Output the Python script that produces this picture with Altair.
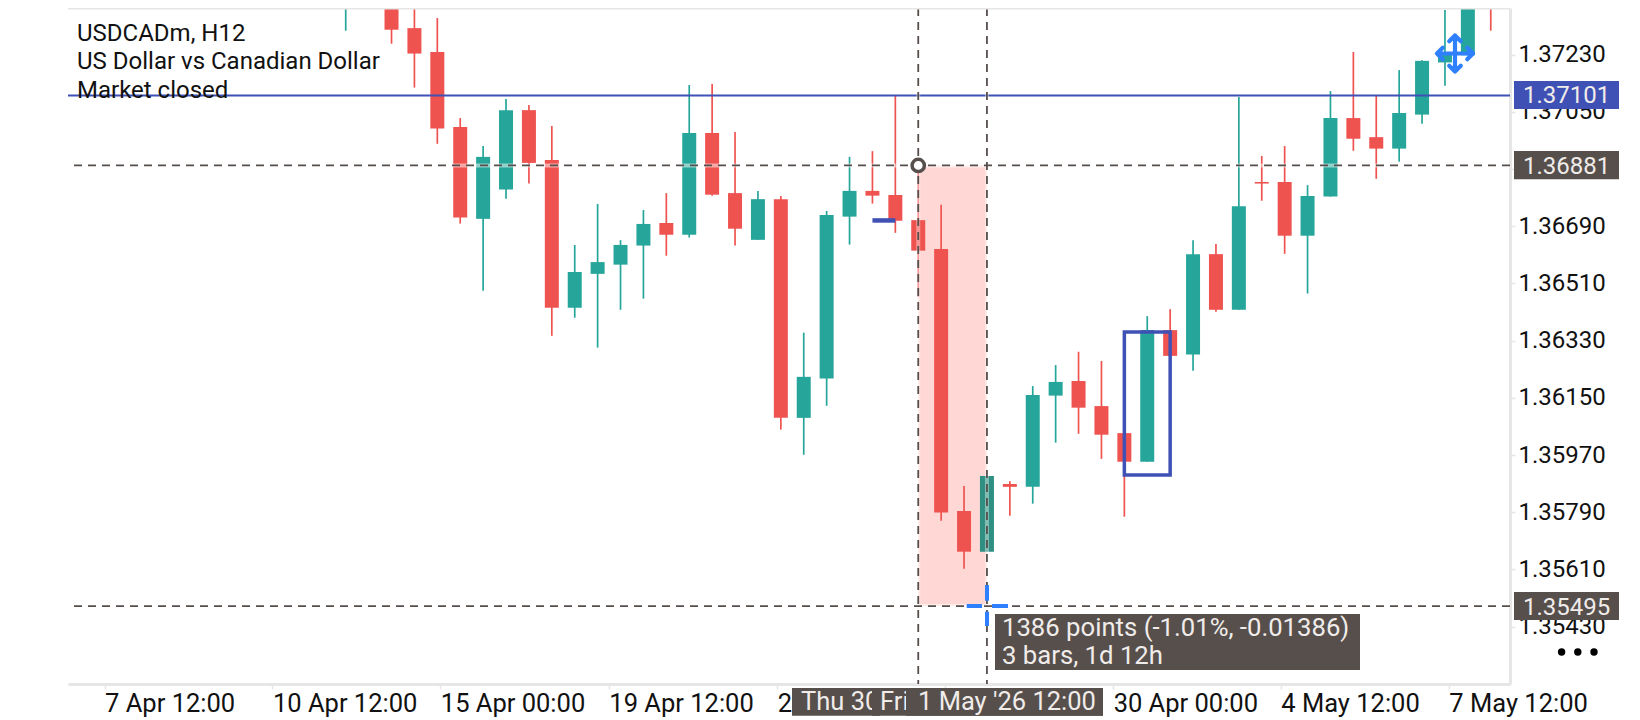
import json
import altair as alt
import pandas as pd

# bar number, counted from the first bar visible at the top of the chart
bar_open = [1.37420, 1.37550, 1.37500, 1.37313, 1.37238, 1.37002, 1.36713, 1.36805, 1.37055, 1.36898,
            1.36433, 1.36540, 1.36569, 1.36629, 1.36700, 1.36663, 1.36983, 1.36794, 1.36647, 1.36775,
            1.36087, 1.36211, 1.36720, 1.36801, 1.36788, 1.36709, 1.36618, 1.35794, 1.35666, 1.35879,
            1.35870, 1.36157, 1.36203, 1.36124, 1.36039, 1.35949, 1.36363, 1.36286, 1.36602, 1.36427,
            1.36829, 1.36829, 1.36660, 1.36783, 1.37030, 1.36970, 1.36934, 1.37041, 1.37205, 1.37228,
            1.37500]
bar_high = [1.37500, 1.37600, 1.37520, 1.37376, 1.37345, 1.37030, 1.36942, 1.37090, 1.37071, 1.37005,
            1.36631, 1.36760, 1.36646, 1.36741, 1.36794, 1.37134, 1.37137, 1.36986, 1.36801, 1.36785,
            1.36355, 1.36738, 1.36908, 1.36926, 1.37100, 1.36882, 1.36757, 1.35873, 1.35904, 1.35888,
            1.36187, 1.36253, 1.36295, 1.36266, 1.36039, 1.36407, 1.36429, 1.36646, 1.36634, 1.37096,
            1.36911, 1.36942, 1.36819, 1.37115, 1.37238, 1.37100, 1.37181, 1.37212, 1.37370, 1.37500,
            1.37520]
bar_low = [1.37305, 1.37450, 1.37264, 1.37126, 1.36949, 1.36698, 1.36487, 1.36776, 1.36824, 1.36345,
           1.36402, 1.36308, 1.36427, 1.36462, 1.36597, 1.36654, 1.36786, 1.36629, 1.36647, 1.36050,
           1.35971, 1.36125, 1.36632, 1.36761, 1.36669, 1.36468, 1.35763, 1.35612, 1.35666, 1.35779,
           1.35817, 1.36009, 1.36037, 1.35958, 1.35776, 1.35949, 1.36282, 1.36235, 1.36421, 1.36427,
           1.36770, 1.36603, 1.36478, 1.36783, 1.36927, 1.36839, 1.36893, 1.37012, 1.37132, 1.37228,
           1.37305]
bar_close = [1.37480, 1.37450, 1.37308, 1.37233, 1.36997, 1.36717, 1.36908, 1.37055, 1.36889, 1.36433,
             1.36546, 1.36577, 1.36631, 1.36697, 1.36663, 1.36983, 1.36789, 1.36682, 1.36775, 1.36087,
             1.36216, 1.36725, 1.36801, 1.36786, 1.36707, 1.36613, 1.35789, 1.35666, 1.35904, 1.35870,
             1.36159, 1.36200, 1.36119, 1.36034, 1.35949, 1.36363, 1.36282, 1.36602, 1.36427, 1.36753,
             1.36824, 1.36660, 1.36785, 1.37030, 1.36965, 1.36934, 1.37046, 1.37210, 1.37235, 1.37480,
             1.37450]

price_ticks = [1.37230, 1.37050, 1.36870, 1.36690, 1.36510, 1.36330, 1.36150, 1.35970, 1.35790, 1.35610, 1.35430]
time_tick_bars = [-10.53, -3.20, 4.13, 11.49, 18.84, 26.17, 33.51, 40.83, 48.17]
time_tick_labels = ["7 Apr 12:00", "10 Apr 12:00", "15 Apr 00:00", "19 Apr 12:00", "2",
                    "", "30 Apr 00:00", "4 May 12:00", "7 May 12:00"]

last_price = 1.37101
measure_from = 1.36881
measure_to = 1.35495
measure_bars = [25, 28]
hline_segment = {"bar": 23, "bar2": 24, "price": 1.36708}
box_shape = {"bar": 34, "bar2": 36, "top": 1.36357, "bottom": 1.35907}

UP, DOWN, UP_DIM = "#26A69A", "#EF5350", "#2F8F82"
BLUE, BRIGHT, DARK, GREY = "#3F51B5", "#2F80FF", "#574F4C", "#E6E6E6"
FONT = "Roboto"

candles = pd.DataFrame({"bar": range(len(bar_open)), "open": bar_open, "high": bar_high,
                        "low": bar_low, "close": bar_close})
candles["kind"] = ["up" if c > o else "down" for o, c in zip(bar_open, bar_close)]
candles.loc[candles.bar == measure_bars[1], "kind"] = "dim"

xs = alt.Scale(domain=[-12.127, 50.84], nice=False, zero=False, padding=0)
ys = alt.Scale(domain=[1.352498, 1.373763], nice=False, zero=False, padding=0)
color = alt.Color("kind:N", legend=None,
                  scale=alt.Scale(domain=["up", "down", "dim"], range=[UP, DOWN, UP_DIM]))

X = alt.X("bar:Q", scale=xs, title=None, axis=alt.Axis(
    values=time_tick_bars, grid=False, title=None, domainColor=GREY, domainWidth=3,
    tickColor=GREY, tickWidth=1.5, tickSize=5, labelFont=FONT, labelFontSize=25.5, labelColor="#111111",
    labelAlign="left", labelBaseline="alphabetic", labelPadding=22, labelOverlap=False, labelFlush=False,
    labelBound=False,
    labelExpr=f"{json.dumps(time_tick_labels)}[indexof({json.dumps(time_tick_bars)}, datum.value)]"))
Y = alt.Y("price:Q", scale=ys, title=None, axis=alt.Axis(
    orient="right", values=price_ticks, format=".5f", grid=False, title=None, domainColor=GREY, domainWidth=3,
    tickColor=GREY, tickWidth=1.5, tickSize=5, labelFont=FONT, labelFontSize=24, labelColor="#111111",
    labelPadding=3, labelOverlap=False, labelBound=False, labelFlush=False))

x_only = alt.X("bar:Q", scale=xs, title=None)
x2_only = alt.X2("bar2:Q")
y_only = alt.Y("price:Q", scale=ys, title=None)


def pf(**cols):
    return pd.DataFrame({k: [v] if not isinstance(v, list) else v for k, v in cols.items()})


def box(x0, x1, y0, y1, fill):
    return alt.Chart(pf(a=0)).mark_rect(fill=fill).encode(
        x=alt.value(x0), x2=alt.value(x1), y=alt.value(y0), y2=alt.value(y1))


def label(text, x0, y0, size=24, col="#F0ECEA", align="left"):
    return alt.Chart(pf(a=0)).mark_text(text=text, font=FONT, fontSize=size, color=col, align=align,
                                        baseline="alphabetic").encode(x=alt.value(x0), y=alt.value(y0))


def dash(x0, x1, y0, y1):
    return alt.Chart(pf(a=0)).mark_rule(color=BRIGHT, strokeWidth=4).encode(
        x=alt.value(x0), x2=alt.value(x1), y=alt.value(y0), y2=alt.value(y1))


# origin of the plot area on the page is (68, 8); helpers below take page pixels
def px(v):
    return v - 68


def py(v):
    return v - 8


axes = alt.Chart(pd.DataFrame({"bar": [0], "price": [1.36]})).mark_point(opacity=0).encode(x=X, y=Y)

pink = alt.Chart(pf(bar=measure_bars[0], bar2=measure_bars[1], price=measure_from, price2=measure_to)).mark_rect(
    fill="#FFD8D6").encode(x=x_only, x2=x2_only, y=y_only, y2="price2:Q")

wicks = alt.Chart(candles).mark_rule(strokeWidth=1.7, clip=True).encode(
    x=x_only, y=alt.Y("low:Q", scale=ys, title=None), y2="high:Q", color=color)
bodies = alt.Chart(candles).mark_bar(size=14, clip=True).encode(
    x=x_only, y=alt.Y("open:Q", scale=ys, title=None), y2="close:Q", color=color)

last_line = alt.Chart(pf(price=last_price)).mark_rule(color=BLUE, strokeWidth=2).encode(y=y_only)
seg = alt.Chart(pf(**hline_segment)).mark_rule(color=BLUE, strokeWidth=4.5).encode(x=x_only, x2=x2_only, y=y_only)
rect_shape = alt.Chart(pf(bar=box_shape["bar"], bar2=box_shape["bar2"], price=box_shape["top"],
                          price2=box_shape["bottom"])).mark_rect(
    fill="transparent", stroke=BLUE, strokeWidth=3.5).encode(x=x_only, x2=x2_only, y=y_only, y2="price2:Q")

hz = pd.DataFrame({"price": [measure_from, measure_to]})
vt = pd.DataFrame({"bar": measure_bars})
halo_h = alt.Chart(hz).mark_rule(color="white", strokeWidth=4, opacity=0.5).encode(y=y_only)
halo_v = alt.Chart(vt).mark_rule(color="white", strokeWidth=4, opacity=0.4).encode(x=x_only)
dash_h = alt.Chart(hz).mark_rule(color=DARK, strokeWidth=1.8, strokeDash=[8, 6]).encode(y=y_only)
dash_v = alt.Chart(vt).mark_rule(color=DARK, strokeWidth=1.8, strokeDash=[8, 6]).encode(x=x_only)

ring = alt.Chart(pf(bar=measure_bars[0], price=measure_from)).mark_circle(
    fill="white", stroke=DARK, strokeWidth=3.5, size=150, opacity=1).encode(x=x_only, y=y_only)

top_border = alt.Chart(pf(a=0)).mark_rule(color=GREY, strokeWidth=3).encode(
    x=alt.value(0), x2=alt.value(1442), y=alt.value(0))

MOVE = ("M-1 0L1 0M0 -1L0 1M-0.68 -0.32L-1 0L-0.68 0.32M0.68 -0.32L1 0L0.68 0.32"
        "M-0.32 -0.68L0 -1L0.32 -0.68M-0.32 0.68L0 1L0.32 0.68")
move_icon = alt.Chart(pf(a=0)).mark_point(shape=MOVE, filled=False, stroke=BRIGHT, strokeWidth=4.2,
                                          strokeCap="round", strokeJoin="round", size=1300, opacity=1).encode(
    x=alt.value(px(1455)), y=alt.value(py(53.5)))

dots = alt.layer(*[alt.Chart(pf(a=0)).mark_circle(color="black", size=55, opacity=1).encode(
    x=alt.value(px(v)), y=alt.value(py(652))) for v in [1561.6, 1577.8, 1594.0]])

BX0, BX1 = px(1514), px(1619)
TXT = px(1523)
parts = [
    axes, pink, wicks, bodies, last_line, seg, rect_shape,
    halo_h, halo_v, dash_h, dash_v, ring, top_border,
    dash(px(966.7), px(982), py(606), py(606)), dash(px(992), px(1008), py(606), py(606)),
    dash(px(987), px(987), py(585), py(600.7)), dash(px(987), px(987), py(611.7), py(626)),
    move_icon,
    label("USDCADm, H12", px(77), py(41.3), 24, "#111111"),
    label("US Dollar vs Canadian Dollar", px(77), py(69.3), 24, "#111111"),
    label("Market closed", px(77), py(97.5), 24, "#111111"),
    box(BX0, BX1, py(81), py(109), BLUE), label(f"{last_price:.5f}", TXT, py(103)),
    box(BX0, BX1, py(151), py(179.3), DARK), label(f"{measure_from:.5f}", TXT, py(173.5)),
    box(BX0, BX1, py(592), py(620), DARK), label(f"{measure_to:.5f}", TXT, py(614.5)),
    box(px(995), px(1360), py(614), py(670), DARK),
    label("1386 points (-1.01%, -0.01386)", px(1002), py(636), 25.7),
    label("3 bars, 1d 12h", px(1002), py(664), 25.7),
    box(px(792), px(880), py(688), py(715.7), DARK), label("Thu 30", px(801), py(710), 25.5),
    box(px(872), px(1103), py(688), py(715.7), DARK), label("Fri", px(880), py(710), 25.5),
    box(px(906), px(1103), py(688), py(715.7), DARK), label("1 May '26 12:00", px(918), py(710), 25.5),
    dots,
]

chart = alt.layer(*parts).resolve_scale(x="shared", y="shared", color="independent").properties(
    width=1442, height=676, padding={"left": 60, "top": 0, "right": 122, "bottom": 33},
    autosize=alt.AutoSizeParams(type="none"), background="white",
).configure_view(stroke=None)

chart.save("out.html", embed_options={"renderer": "svg", "actions": False})
